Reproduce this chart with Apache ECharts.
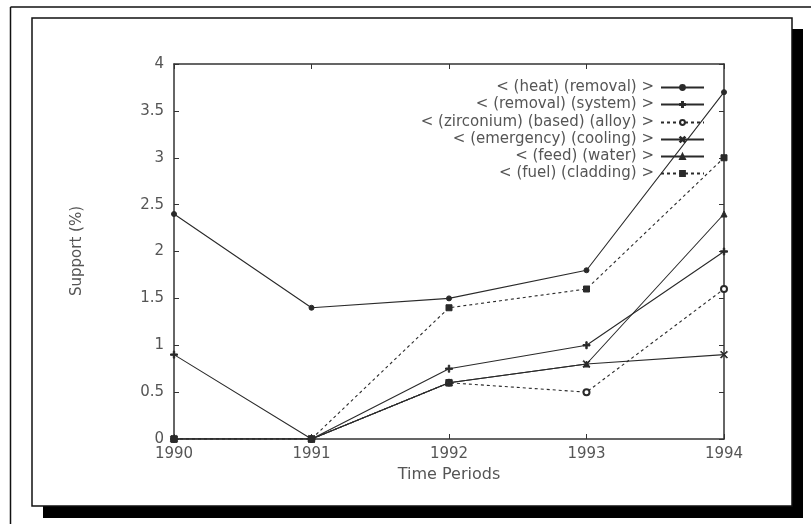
<!DOCTYPE html>
<html>
<head>
<meta charset="utf-8">
<script src="https://cdn.jsdelivr.net/npm/echarts@6/dist/echarts.min.js"></script>
<style>
  html, body { margin: 0; padding: 0; background: #fff; }
  #chart { width: 811px; height: 524px; }
</style>
</head>
<body>
<div id="chart"></div>
<script>
// categories
const years = ['1990', '1991', '1992', '1993', '1994']

// series values (support %)
const heatRemoval = [2.4, 1.4, 1.5, 1.8, 3.7]
const removalSystem = [0.9, 0, 0.75, 1.0, 2.0]
const zirconiumAlloy = [0, 0, 0.6, 0.5, 1.6]
const emergencyCooling = [0, 0, 0.6, 0.8, 0.9]
const feedWater = [0, 0, 0.6, 0.8, 2.4]
const fuelCladding = [0, 0, 1.4, 1.6, 3.0]

const seriesNames = [
  '< (heat) (removal) >',
  '< (removal) (system) >',
  '< (zirconium) (based) (alloy) >',
  '< (emergency) (cooling) >',
  '< (feed) (water) >',
  '< (fuel) (cladding) >',
]

const ink = '#2a2a2a'
const labelGray = '#555'
const fontFamily = 'DejaVu Sans, Verdana, sans-serif'

const plusPath = 'path://M4,0 L6,0 L6,4 L10,4 L10,6 L6,6 L6,10 L4,10 L4,6 L0,6 L0,4 L4,4 Z'
const crossPath = 'path://M1,0 L5,4 L9,0 L10,1 L6,5 L10,9 L9,10 L5,6 L1,10 L0,9 L4,5 L0,1 Z'

const chart = echarts.init(document.getElementById('chart'))

const mkSeries = (name, data, symbol, size, dashed) => ({
  name,
  type: 'line',
  data,
  symbol,
  symbolSize: size,
  showSymbol: true,
  lineStyle: { color: ink, width: 1.1, type: dashed ? [3, 3] : 'solid' },
  itemStyle: { color: ink, borderColor: ink, borderWidth: 1 },
  emphasis: { disabled: true },
  xAxisIndex: 0,
  yAxisIndex: 0,
  z: 3,
})

// one legend per row so that texts are right aligned and icons line up
const legendTop = [75, 92, 110, 127, 144, 161]
const legends = seriesNames.map((n, i) => ({
  data: [n],
  right: 101,
  top: legendTop[i],
  align: 'right',
  itemWidth: 43,
  itemHeight: 6,
  itemGap: 0,
  selectedMode: false,
  textStyle: { color: labelGray, fontSize: 15, fontFamily, padding: [0, 2, 0, 0] },
}))

const axisFrame = { show: true, onZero: false, lineStyle: { color: '#333', width: 1.5 } }
const innerTick = { show: true, inside: true, length: 5, lineStyle: { color: '#333' } }

chart.setOption({
  animation: false,
  backgroundColor: '#fff',
  graphic: [
    { type: 'line', z: -10, shape: { x1: 10.5, y1: 7, x2: 811, y2: 7 }, style: { stroke: '#111', lineWidth: 1.5 } },
    { type: 'line', z: -10, shape: { x1: 10.5, y1: 7, x2: 10.5, y2: 524 }, style: { stroke: '#111', lineWidth: 1.5 } },
    { type: 'rect', z: -10, shape: { x: 43, y: 29, width: 760, height: 489 }, style: { fill: '#000' } },
    { type: 'rect', z: -9, shape: { x: 32, y: 18, width: 760, height: 488 }, style: { fill: '#fff', stroke: '#111', lineWidth: 1.5 } },
    {
      type: 'text', z: 5, left: 70, top: 206, rotation: Math.PI / 2,
      style: { text: 'Support (%)', fill: labelGray, fontSize: 15, fontFamily },
    },
  ],
  legend: legends,
  grid: { left: 174, right: 87, top: 64, bottom: 85, containLabel: false },
  xAxis: [
    {
      type: 'category',
      data: years,
      boundaryGap: false,
      position: 'bottom',
      axisLine: axisFrame,
      axisTick: innerTick,
      axisLabel: { color: labelGray, fontSize: 15, fontFamily, margin: 8 },
      splitLine: { show: false },
      name: 'Time Periods',
      nameLocation: 'middle',
      nameGap: 26,
      nameTextStyle: { color: labelGray, fontSize: 16, fontFamily },
    },
    {
      type: 'category',
      data: years,
      boundaryGap: false,
      position: 'top',
      axisLine: axisFrame,
      axisTick: innerTick,
      axisLabel: { show: false },
      splitLine: { show: false },
    },
  ],
  yAxis: [
    {
      type: 'value',
      min: 0,
      max: 4,
      interval: 0.5,
      position: 'left',
      axisLine: axisFrame,
      axisTick: innerTick,
      axisLabel: { color: labelGray, fontSize: 15, fontFamily, margin: 10 },
      splitLine: { show: false },
    },
    {
      type: 'value',
      min: 0,
      max: 4,
      interval: 0.5,
      position: 'right',
      axisLine: axisFrame,
      axisTick: innerTick,
      axisLabel: { show: false },
      splitLine: { show: false },
    },
  ],
  series: [
    mkSeries(seriesNames[0], heatRemoval, 'circle', 5, false),
    mkSeries(seriesNames[1], removalSystem, plusPath, 7, false),
    mkSeries(seriesNames[2], zirconiumAlloy, 'emptyCircle', 6, true),
    mkSeries(seriesNames[3], emergencyCooling, crossPath, 7, false),
    mkSeries(seriesNames[4], feedWater, 'triangle', 6, false),
    mkSeries(seriesNames[5], fuelCladding, 'rect', 6, true),
  ],
})
</script>
</body>
</html>
